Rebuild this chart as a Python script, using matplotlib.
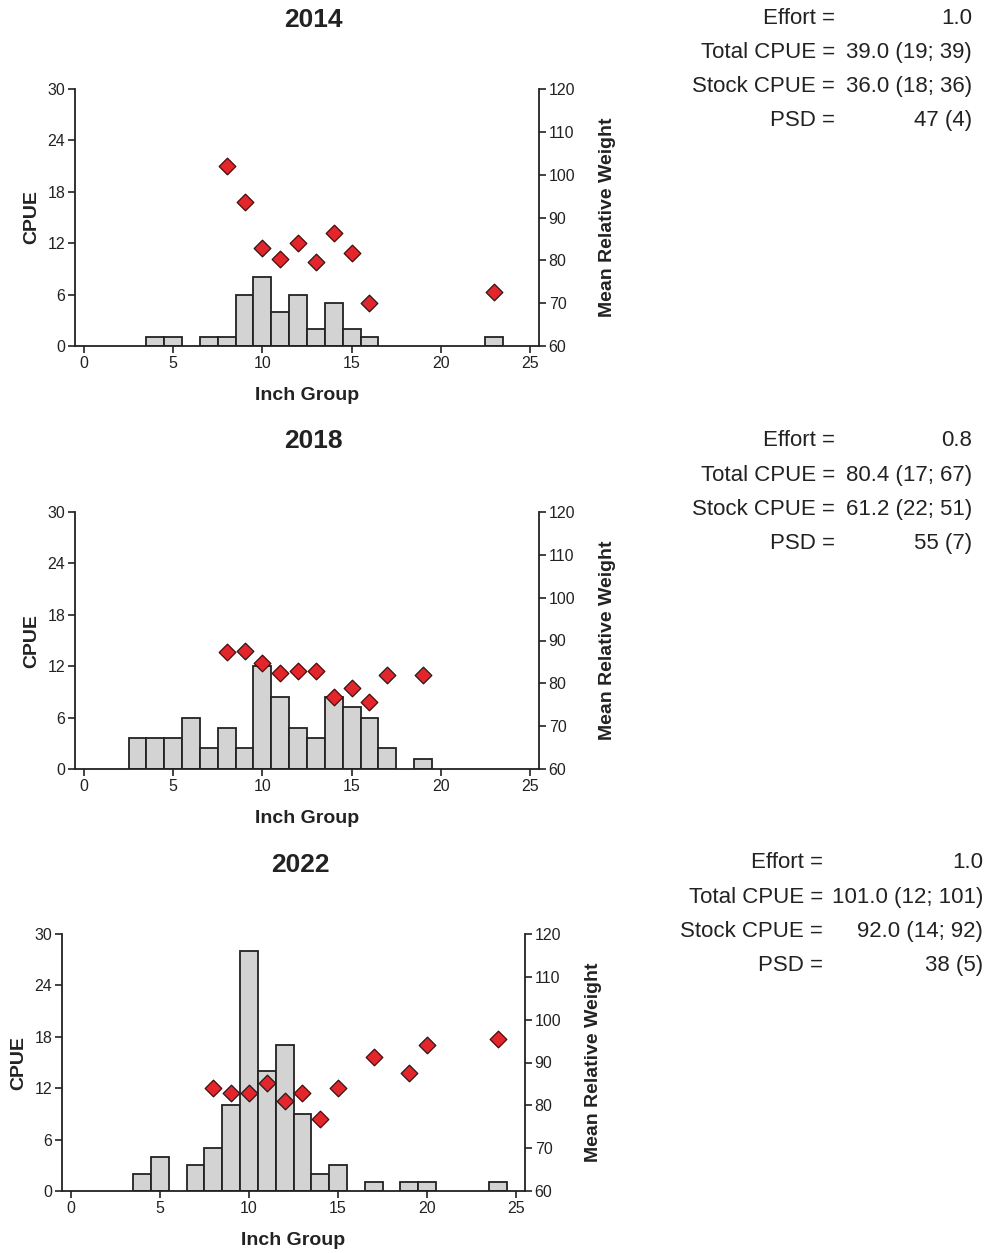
import matplotlib
matplotlib.use("Agg")
import matplotlib.pyplot as plt

plt.rcParams['font.family'] = ['Liberation Sans', 'DejaVu Sans']

# inch groups and CPUE per year (bars)
years = ["2014", "2018", "2022"]
inch_2014 = [4, 5, 7, 8, 9, 10, 11, 12, 13, 14, 15, 16, 23]
cpue_2014 = [1, 1, 1, 1, 6, 8, 4, 6, 2, 5, 2, 1, 1]
inch_2018 = [3, 4, 5, 6, 7, 8, 9, 10, 11, 12, 13, 14, 15, 16, 17, 19]
cpue_2018 = [3.6, 3.6, 3.6, 6.0, 2.4, 4.8, 2.4, 12.0, 8.4, 4.8, 3.6, 8.4, 7.2, 6.0, 2.4, 1.2]
inch_2022 = [4, 5, 7, 8, 9, 10, 11, 12, 13, 14, 15, 17, 19, 20, 24]
cpue_2022 = [2, 4, 3, 5, 10, 28, 14, 17, 9, 2, 3, 1, 1, 1, 1]

# mean relative weight (diamonds)
wr_inch_2014 = [8, 9, 10, 11, 12, 13, 14, 15, 16, 23]
wr_2014 = [102.1, 93.7, 82.8, 80.3, 84.0, 79.6, 86.4, 81.7, 70.0, 72.7]
wr_inch_2018 = [8, 9, 10, 11, 12, 13, 14, 15, 16, 17, 19]
wr_2018 = [87.2, 87.5, 84.7, 82.4, 82.8, 82.8, 76.7, 78.8, 75.6, 82.0, 82.0]
wr_inch_2022 = [8, 9, 10, 11, 12, 13, 14, 15, 17, 19, 20, 24]
wr_2022 = [84.0, 82.8, 82.8, 85.2, 81.1, 82.8, 76.8, 84.0, 91.2, 87.6, 94.0, 95.6]

# summary text
stat_labels = ["Effort =", "Total CPUE =", "Stock CPUE =", "PSD ="]
stats_2014 = ["1.0", "39.0 (19; 39)", "36.0 (18; 36)", "47 (4)"]
stats_2018 = ["0.8", "80.4 (17; 67)", "61.2 (22; 51)", "55 (7)"]
stats_2022 = ["1.0", "101.0 (12; 101)", "92.0 (14; 92)", "38 (5)"]

W, H = 989, 1253
fig = plt.figure(figsize=(W / 100, H / 100), dpi=100)

ink = "#222222"

# pixel boxes: left, right, top, bottom
boxes = [(75, 539, 89, 346), (75, 539, 512, 769), (62, 525, 934, 1191)]
title_xy = [(313, 20), (313, 441), (300, 865)]
stat_x = [(835, 972), (835, 972), (823, 983)]
stat_y0 = [18, 441, 863]

data = [
    (inch_2014, cpue_2014, wr_inch_2014, wr_2014, stats_2014),
    (inch_2018, cpue_2018, wr_inch_2018, wr_2018, stats_2018),
    (inch_2022, cpue_2022, wr_inch_2022, wr_2022, stats_2022),
]

for i, (inch, cpue, wr_inch, wr, stats) in enumerate(data):
    l, r, t, b = boxes[i]
    ax = fig.add_axes([l / W, 1 - b / H, (r - l) / W, (b - t) / H])
    ax.bar(inch, cpue, width=1.0, color="#d3d3d3", edgecolor=ink, linewidth=1.3, zorder=2)
    ax.set_xlim(-0.5, 25.5)
    ax.set_ylim(0, 30)
    ax.set_xticks(range(0, 26, 5))
    ax.set_yticks(range(0, 31, 6))
    ax.spines['top'].set_visible(False)
    ax.spines['right'].set_visible(False)
    for s in ['left', 'bottom']:
        ax.spines[s].set_linewidth(1.3)
        ax.spines[s].set_color(ink)
    ax.tick_params(direction='out', length=5, width=1.2, colors=ink, labelsize=11.5, pad=2)
    ax.set_xlabel("Inch Group", fontsize=14, fontweight='bold', color=ink, labelpad=12)
    ax.set_ylabel("CPUE", fontsize=14, fontweight='bold', color=ink, labelpad=5)

    ax2 = ax.twinx()
    ax2.scatter(wr_inch, wr, marker='D', s=72, color="#e3262b", edgecolor="#3a1010",
                linewidth=0.9, zorder=3)
    ax2.set_ylim(60, 120)
    ax2.set_yticks(range(60, 121, 10))
    for s in ['top', 'left', 'bottom']:
        ax2.spines[s].set_visible(False)
    ax2.spines['right'].set_linewidth(1.3)
    ax2.spines['right'].set_color(ink)
    ax2.tick_params(direction='out', length=5, width=1.2, colors=ink, labelsize=11.5, pad=2)
    ax2.set_ylabel("Mean Relative Weight", fontsize=14, fontweight='bold', color=ink, labelpad=17)

    tx, ty = title_xy[i]
    fig.text(tx / W, 1 - ty / H, years[i], fontsize=19, fontweight='bold', color=ink,
             ha='center', va='center')

    lx, vx = stat_x[i]
    for k in range(4):
        y = 1 - (stat_y0[i] + 34.2 * k) / H
        fig.text(lx / W, y, stat_labels[k], fontsize=16, color=ink, ha='right', va='center')
        fig.text(vx / W, y, stats[k], fontsize=16, color=ink, ha='right', va='center')

fig.savefig("out.png", dpi=100)
